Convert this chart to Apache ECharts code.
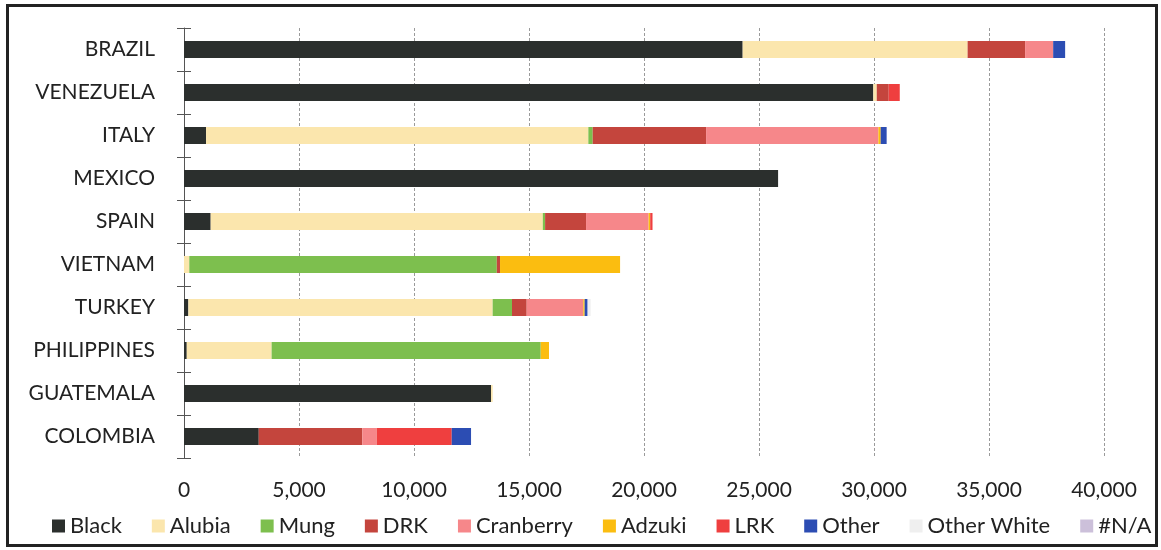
<!DOCTYPE html>
<html>
<head>
<meta charset="utf-8">
<script src="https://cdn.jsdelivr.net/npm/echarts@6/dist/echarts.min.js"></script>
<style>
    html, body { margin: 0; padding: 0; background: #fff; }
    #frame { position: absolute; left: 6px; top: 4px; width: 1146px; height: 537px; border: 3px solid #222; }
    #chart { width: 1161px; height: 550px; position: absolute; left: 0; top: 0; }
</style>
</head>
<body>
<div id="frame"></div>
<div id="chart"></div>
<script>
var countries = ['BRAZIL', 'VENEZUELA', 'ITALY', 'MEXICO', 'SPAIN', 'VIETNAM', 'TURKEY', 'PHILIPPINES', 'GUATEMALA', 'COLOMBIA'];

var seriesNames = ['Black', 'Alubia', 'Mung', 'DRK', 'Cranberry', 'Adzuki', 'LRK', 'Other', 'Other White', '#N/A'];

var black      = [24290, 29970, 960, 25830, 1160, 0, 190, 120, 13350, 3250];
var alubia     = [9780, 150, 16620, 0, 14440, 230, 13230, 3690, 70, 0];
var mung       = [0, 0, 190, 0, 100, 13370, 840, 11700, 0, 0];
var drk        = [2500, 520, 4930, 0, 1780, 140, 640, 0, 0, 4500];
var cranberry  = [1220, 0, 7490, 0, 2720, 0, 2460, 0, 0, 630];
var adzuki     = [0, 0, 100, 0, 70, 5220, 60, 360, 0, 0];
var lrk        = [0, 480, 0, 0, 100, 0, 0, 0, 0, 3260];
var other      = [520, 0, 260, 0, 0, 0, 130, 0, 0, 840];
var otherWhite = [0, 0, 0, 0, 0, 0, 130, 0, 0, 0];
var notAvail   = [0, 0, 0, 0, 0, 0, 0, 0, 0, 0];

var xTicks = [0, 5000, 10000, 15000, 20000, 25000, 30000, 35000, 40000];

var colors = ['#2b2f2d', '#fbe6ad', '#7dbf4e', '#c4453d', '#f6878a', '#fbbd10', '#ef3f3f', '#2c4db3', '#efefef', '#ccc0da'];

var allData = [black, alubia, mung, drk, cranberry, adzuki, lrk, other, otherWhite, notAvail];

var myChart = echarts.init(document.getElementById('chart'));

var series = [];
for (var i = 0; i < seriesNames.length; i++) {
    series.push({
        name: seriesNames[i],
        type: 'bar',
        stack: 'total',
        barWidth: 17,
        data: allData[i],
        itemStyle: { color: colors[i] }
    });
}

var option = {
    animation: false,
    textStyle: { fontFamily: 'Lato' },
    color: colors,
    grid: {
        left: 184,
        right: 57,
        top: 28,
        bottom: 92
    },
    legend: {
        bottom: 8,
        left: 47,
        width: 1110,
        itemWidth: 13,
        itemHeight: 13,
        itemGap: 30,
        icon: 'rect',
        textStyle: { fontSize: 22, color: '#222', fontFamily: 'Lato' },
        data: seriesNames
    },
    xAxis: {
        type: 'value',
        min: xTicks[0],
        max: xTicks[xTicks.length - 1],
        interval: 5000,
        axisLine: { show: false },
        axisTick: { show: false },
        axisLabel: {
            fontSize: 21,
            color: '#222',
            margin: 22,
            formatter: function (v) { return v.toLocaleString('en-US'); }
        },
        splitLine: {
            lineStyle: { color: '#9a9a9a', type: [3, 2], width: 1 }
        }
    },
    yAxis: [{
        // shifted 7px right so the ticks cross the axis line
        type: 'category',
        inverse: true,
        data: countries,
        offset: -7,
        axisLine: { show: false },
        axisTick: { show: true, length: 14, lineStyle: { color: '#555' } },
        axisLabel: { fontSize: 21, color: '#222', margin: 36 }
    }, {
        type: 'category',
        position: 'left',
        inverse: true,
        data: countries,
        axisLine: { show: true, lineStyle: { color: '#555', width: 1 } },
        axisTick: { show: false },
        axisLabel: { show: false },
        splitLine: { show: false }
    }],
    series: series
};

myChart.setOption(option);
</script>
</body>
</html>
